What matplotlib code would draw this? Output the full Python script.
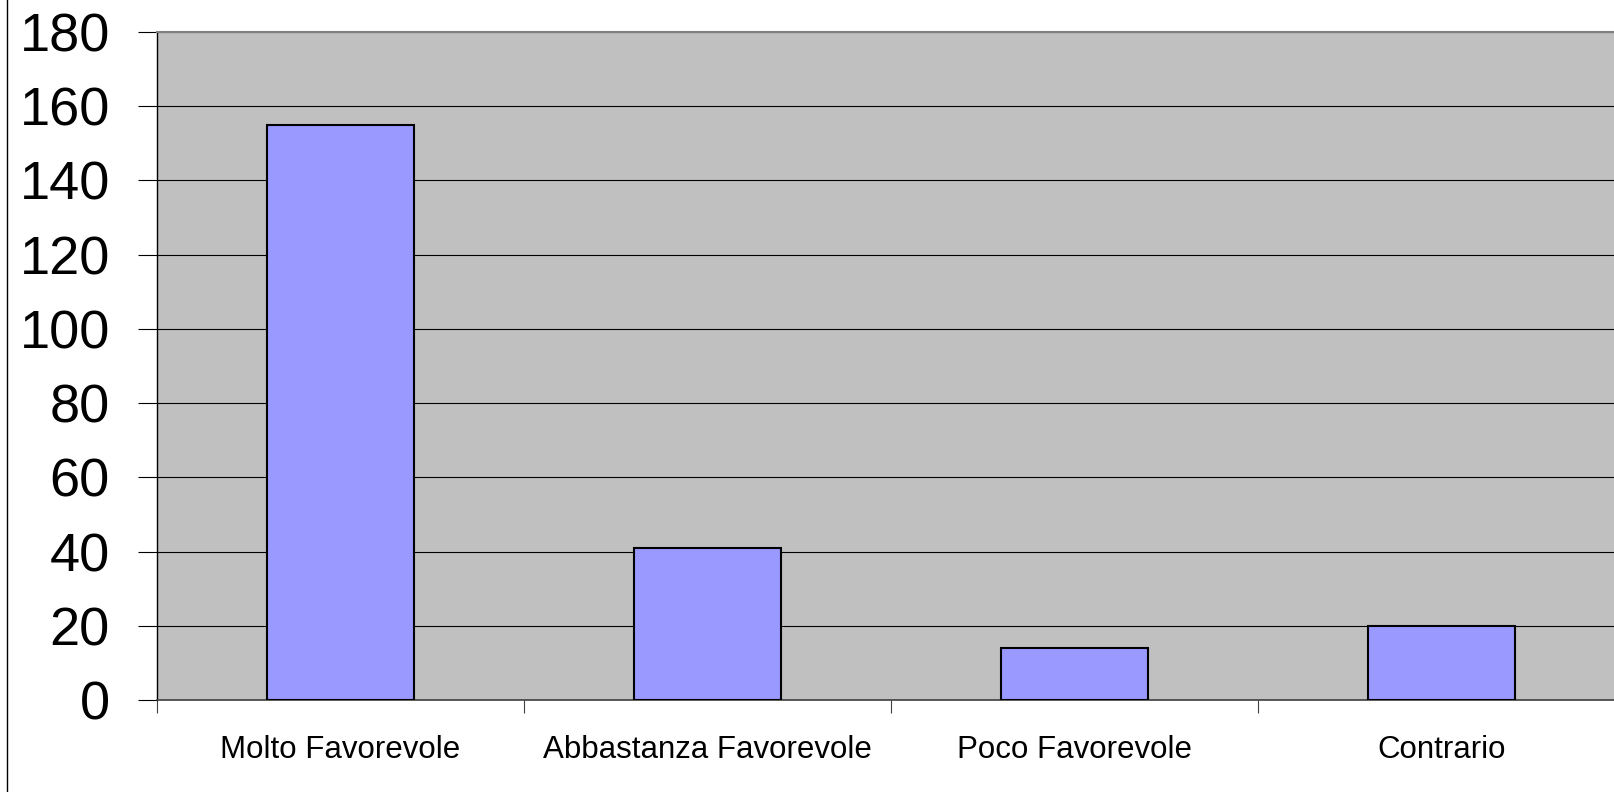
import numpy as np
import matplotlib.pyplot as plt
from matplotlib.lines import Line2D

plt.rcParams['font.family'] = ['Liberation Sans', 'DejaVu Sans']

categories = ["Molto Favorevole", "Abbastanza Favorevole", "Poco Favorevole", "Contrario"]
values = [155, 41, 14, 20]
yticks = np.arange(0, 181, 20)

fig = plt.figure(figsize=(16.14, 7.92), dpi=100)
# plot area runs past the right edge of the picture, like the original
ax = fig.add_axes([0.0973, 0.1162, 0.9095, 0.8434])
ax.set_facecolor("#C0C0C0")

x = np.arange(len(categories)) + 0.5
ax.bar(x, values, width=0.4, color="#9999FF", edgecolor="black", linewidth=1.5, zorder=3)

ax.set_xlim(0, len(categories))
ax.set_ylim(0, 180)
ax.set_yticks(yticks)
ax.set_yticklabels([str(v) for v in yticks], fontsize=39)
ax.yaxis.grid(True, color="black", linewidth=0.8, zorder=1)
ax.set_axisbelow(True)

# category labels between boundary ticks
ax.set_xticks(np.arange(len(categories) + 1))
ax.set_xticklabels([])
ax.set_xticks(x, minor=True)
ax.set_xticklabels(categories, minor=True, fontsize=22.5)
ax.tick_params(axis="x", which="minor", length=0, pad=25)
ax.tick_params(axis="x", which="major", length=9, width=0.8, color="#404040")
ax.tick_params(axis="y", length=14, width=0.8, pad=20)

ax.spines["left"].set_color("black")
ax.spines["left"].set_linewidth(1.0)
ax.spines["bottom"].set_color("#404040")
ax.spines["bottom"].set_linewidth(1.2)
ax.spines["top"].set_color("#808080")
ax.spines["top"].set_linewidth(1.5)
ax.spines["right"].set_visible(False)

# left edge of the chart frame
fig.add_artist(Line2D([0.0045, 0.0045], [0, 1], transform=fig.transFigure, color="black", linewidth=1.0))

fig.savefig("out.png", dpi=100)
